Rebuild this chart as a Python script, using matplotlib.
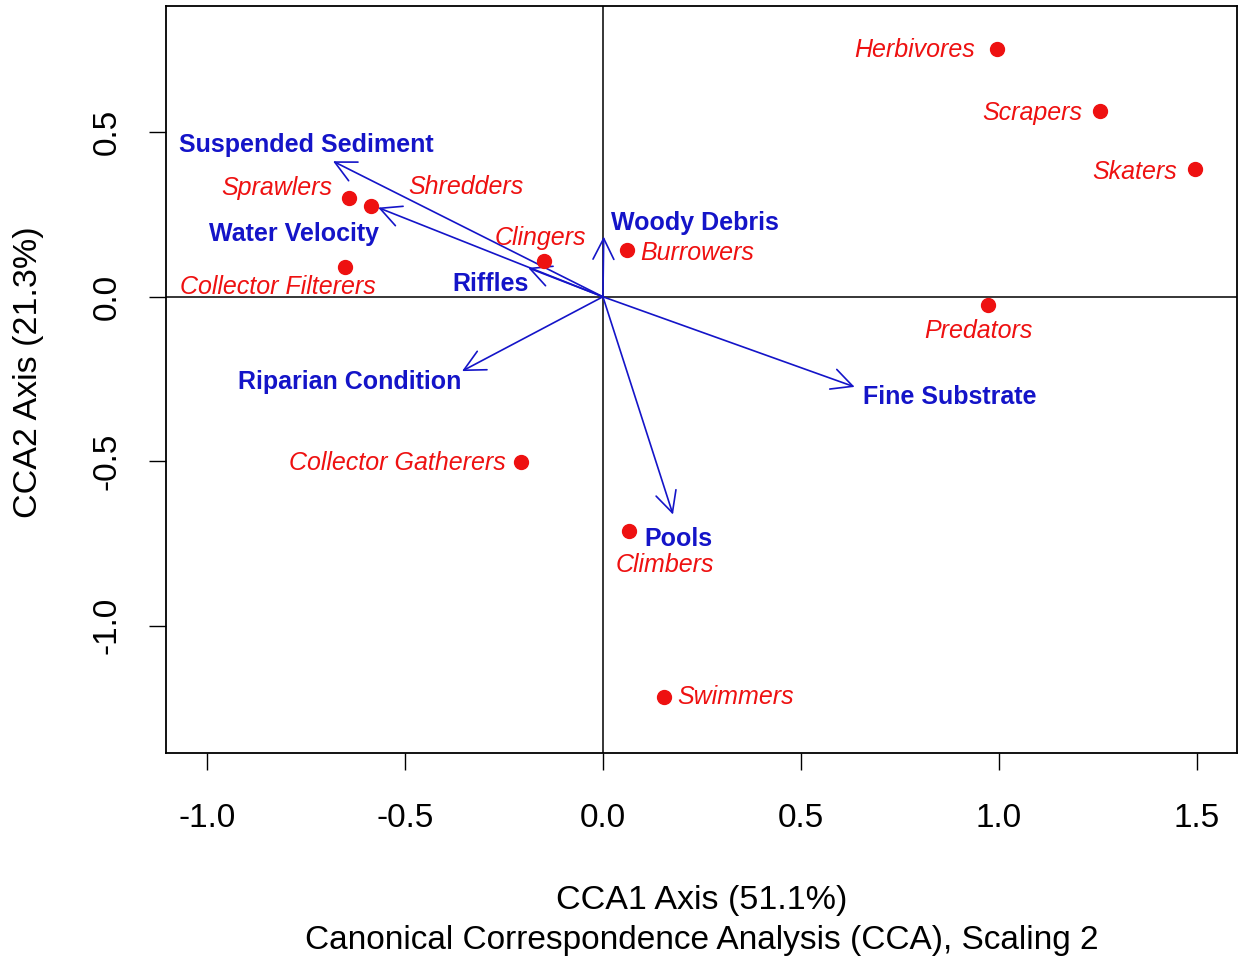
import matplotlib.pyplot as plt
from matplotlib.patches import FancyArrowPatch

plt.rcParams['font.family'] = ['Liberation Sans', 'DejaVu Sans']

# species scores (CCA1, CCA2)
species = ["Herbivores", "Scrapers", "Skaters", "Sprawlers", "Shredders",
           "Collector Filterers", "Clingers", "Burrowers", "Predators",
           "Collector Gatherers", "Climbers", "Swimmers"]
sp_cca1 = [0.997, 1.255, 1.495, -0.641, -0.586, -0.652, -0.149, 0.061,
           0.972, -0.207, 0.066, 0.154]
sp_cca2 = [0.753, 0.564, 0.387, 0.299, 0.277, 0.091, 0.110, 0.143,
           -0.024, -0.503, -0.713, -1.216]
# where the species names were written
sp_lab_x = [0.788, 1.086, 1.343, -0.823, -0.346, -0.821, -0.157, 0.237,
            0.949, -0.520, 0.157, 0.336]
sp_lab_y = [0.749, 0.560, 0.380, 0.331, 0.335, 0.030, 0.179, 0.133,
            -0.105, -0.504, -0.815, -1.217]

# environmental biplot arrows
env = ["Suspended Sediment", "Water Velocity", "Riffles", "Woody Debris",
       "Riparian Condition", "Fine Substrate", "Pools"]
env_cca1 = [-0.682, -0.568, -0.189, 0.002, -0.356, 0.636, 0.177]
env_cca2 = [0.412, 0.271, 0.088, 0.183, -0.226, -0.274, -0.662]
env_lab_x = [-0.750, -0.780, -0.285, 0.232, -0.641, 0.876, 0.192]
env_lab_y = [0.460, 0.191, 0.039, 0.225, -0.260, -0.306, -0.737]

red = "#ee1111"
blue = "#1414c8"

fig = plt.figure(figsize=(12.39, 9.61), dpi=100)
ax = fig.add_axes([0.134, 0.2164, 0.864, 0.7774])
ax.set_xlim(-1.104, 1.601)
ax.set_ylim(-1.387, 0.884)

ax.axhline(0, color="black", lw=1.1, zorder=1)
ax.axvline(0, color="black", lw=1.1, zorder=1)

for name, x, y, lx, ly in zip(env, env_cca1, env_cca2, env_lab_x, env_lab_y):
    ax.add_patch(FancyArrowPatch((0, 0), (x, y),
                                 arrowstyle="->,head_length=1.5,head_width=0.75",
                                 mutation_scale=10, color=blue, lw=1.2,
                                 shrinkA=0, shrinkB=0, zorder=2))
    ax.text(lx, ly, name, color=blue, fontsize=18, fontweight="bold",
            ha="center", va="center", zorder=4)

ax.plot(sp_cca1, sp_cca2, "o", color=red, ms=10, zorder=3)
for name, lx, ly in zip(species, sp_lab_x, sp_lab_y):
    ax.text(lx, ly, name, color=red, fontsize=18, fontstyle="italic",
            ha="center", va="center", zorder=4)

ax.set_xticks([-1.0, -0.5, 0.0, 0.5, 1.0, 1.5])
ax.set_yticks([-1.0, -0.5, 0.0, 0.5])
ax.set_xticklabels(["-1.0", "-0.5", "0.0", "0.5", "1.0", "1.5"])
ax.set_yticklabels(["-1.0", "-0.5", "0.0", "0.5"], rotation=90, va="center")
ax.tick_params(length=12, width=1, labelsize=24)
ax.tick_params(axis="x", pad=24)
ax.tick_params(axis="y", pad=19)
for s in ax.spines.values():
    s.set_linewidth(1.3)

fig.text(0.5664, 1 - 901 / 961, "CCA1 Axis (51.1%)", fontsize=24.5,
         ha="center", va="center")
fig.text(0.5664, 1 - 940 / 961,
         "Canonical Correspondence Analysis (CCA), Scaling 2", fontsize=24,
         ha="center", va="center")
fig.text(29 / 1239, 1 - 372 / 961, "CCA2 Axis (21.3%)", fontsize=24.5,
         rotation=90, ha="center", va="center")

fig.savefig("out.png", dpi=100)
